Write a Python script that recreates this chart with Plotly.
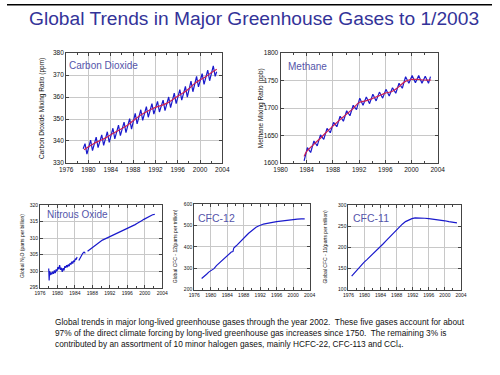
import plotly.graph_objects as go

W, H = 500, 375

# ---------------- data ----------------
co2_x = [1979.05, 1979.38, 1979.72, 1980.38, 1980.72, 1981.38, 1981.72, 1982.38, 1982.72, 1983.38, 1983.72,
         1984.38, 1984.72, 1985.38, 1985.72, 1986.38, 1986.72, 1987.38, 1987.72, 1988.38, 1988.72,
         1989.38, 1989.72, 1990.38, 1990.72, 1991.38, 1991.72, 1992.38, 1992.72, 1993.38, 1993.72,
         1994.38, 1994.72, 1995.38, 1995.72, 1996.38, 1996.72, 1997.38, 1997.72, 1998.38, 1998.72,
         1999.38, 1999.72, 2000.38, 2000.72, 2001.38, 2001.72, 2002.38, 2002.72, 2002.98]
co2_y = [336.5, 338.8, 334.0, 340.4, 335.6, 341.8, 337.0, 342.8, 338.0, 344.2, 339.4,
         345.8, 341.0, 347.2, 342.4, 348.6, 343.8, 350.2, 345.4, 352.6, 347.8,
         354.2, 349.4, 355.6, 350.8, 357.0, 352.2, 358.0, 353.2, 358.6, 353.8,
         360.0, 355.2, 361.8, 357.0, 363.4, 358.6, 364.8, 360.0, 367.2, 362.4,
         369.4, 364.6, 370.6, 365.8, 372.2, 367.4, 374.2, 369.4, 371.5]
co2_trend_x = [1979.2, 1980, 1981, 1982, 1983, 1984, 1985, 1986, 1987, 1988, 1989, 1990, 1991,
               1992, 1993, 1994, 1995, 1996, 1997, 1998, 1999, 2000, 2001, 2002, 2003]
co2_trend_y = [336.0, 337.4, 338.9, 340.1, 341.3, 342.8, 344.3, 345.7, 347.2, 349.2, 351.2, 352.7, 354.1,
               355.3, 356.1, 357.1, 358.7, 360.4, 361.9, 363.8, 366.1, 367.8, 369.2, 371.0, 372.6]

ch4_x = [1983.6, 1984.1, 1984.6, 1985.1, 1985.6, 1986.1, 1986.6, 1987.1, 1987.6, 1988.1, 1988.6,
         1989.1, 1989.6, 1990.1, 1990.6, 1991.1, 1991.6, 1992.1, 1992.6, 1993.1, 1993.6,
         1994.1, 1994.6, 1995.1, 1995.6, 1996.1, 1996.6, 1997.1, 1997.6, 1998.1, 1998.6,
         1999.1, 1999.6, 2000.1, 2000.6, 2001.1, 2001.6, 2002.1, 2002.6, 2002.9]
ch4_y = [1604, 1628, 1619, 1640, 1631, 1651, 1643, 1663, 1655, 1674, 1666,
         1685, 1676, 1695, 1686, 1705, 1697, 1718, 1705, 1720, 1708,
         1725, 1713, 1729, 1718, 1734, 1722, 1737, 1727, 1745, 1736,
         1757, 1745, 1759, 1746, 1759, 1745, 1758, 1745, 1757]
ch4_trend_x = [1983.6, 1984, 1985, 1986, 1987, 1988, 1989, 1990, 1991, 1992, 1993,
               1994, 1995, 1996, 1997, 1998, 1999, 2000, 2001, 2002, 2003]
ch4_trend_y = [1612, 1621, 1633, 1644, 1656, 1667, 1678, 1688, 1698, 1710, 1713,
               1717, 1722, 1727, 1730, 1738, 1748, 1752, 1752, 1751, 1751]

n2o_x = [1978.0, 1978.1, 1978.2, 1978.35, 1978.5, 1978.7, 1978.9, 1979.1, 1979.3, 1979.5, 1979.7, 1979.9,
         1980.1, 1980.3, 1980.5, 1980.7, 1980.9, 1981.1, 1981.3, 1981.5, 1981.7, 1981.9,
         1982.1, 1982.3, 1982.5, 1982.7, 1982.9, 1983.1, 1983.3, 1983.5, 1983.7, 1983.9,
         1984.1, 1984.3, 1984.5, None, 1984.9, 1985.2, 1985.5, 1985.8, 1986.1, 1986.4, None,
         1986.9, 1987.3, 1987.8, 1988.3, 1988.8, 1989.3, 1989.8, 1990.3, 1990.8, 1991.3, 1991.8,
         1992.3, 1992.8, 1993.3, 1993.8, 1994.3, 1994.8, 1995.3, 1995.8, 1996.3, 1996.8,
         1997.3, 1997.8, 1998.3, 1998.8, 1999.3, 1999.8, 2000.3, 2000.8, 2001.3, 2001.8, 2002.3]
n2o_y = [300.8, 297.2, 300.0, 298.8, 299.6, 299.0, 299.8, 299.2, 300.2, 299.4, 300.5, 300.0,
         301.2, 300.6, 301.8, 300.4, 301.0, 299.8, 300.9, 300.2, 301.5, 301.0,
         301.8, 301.2, 302.0, 301.5, 302.4, 302.0, 302.9, 302.3, 303.2, 302.8,
         303.8, 303.5, 304.3, None, 303.2, 304.0, 304.8, 305.4, 305.8, 305.4, None,
         306.0, 306.4, 306.9, 307.5, 308.0, 308.6, 309.0, 309.4, 309.7, 310.0, 310.3,
         310.6, 310.9, 311.2, 311.5, 311.8, 312.1, 312.5, 312.8, 313.1, 313.4,
         313.8, 314.1, 314.5, 314.8, 315.3, 315.7, 316.1, 316.5, 316.8, 317.1, 317.2]

cfc12_x = [1977.8, 1978.3, 1979.0, 1979.6, 1980.2, 1980.8, 1981.4, 1982.0, 1982.6, 1983.2,
           1983.8, 1984.4, 1985.0, 1985.4, 1985.6, 1986.2, 1986.8, 1987.4, 1988.0, 1988.6,
           1989.2, 1989.8, 1990.4, 1991.0, 1991.6, 1992.2, 1992.8, 1993.4, 1994.0, 1995.0,
           1996.0, 1997.0, 1998.0, 1999.0, 2000.0, 2001.0, 2002.0, 2002.8]
cfc12_y = [252, 262, 272, 283, 292, 298, 312, 322, 333, 343,
           355, 365, 376, 378, 395, 405, 418, 430, 440, 452,
           464, 474, 483, 492, 498, 503, 507, 509, 512, 515,
           518, 521, 524, 526, 528, 530, 531, 531]

cfc11_x = [1976.8, 1977.5, 1978.2, 1979.0, 1979.8, 1980.6, 1981.4, 1982.2, 1983.0, 1983.8,
           1984.6, 1985.4, 1986.2, 1987.0, 1987.8, 1988.6, 1989.4, 1990.2, 1991.0, 1991.8,
           1992.6, 1993.4, 1994.2, 1995.0, 1996.0, 1997.0, 1998.0, 1999.0, 2000.0, 2001.0,
           2002.0, 2003.0]
cfc11_y = [132, 140, 148, 156, 164, 171, 178, 185, 192, 200,
           208, 216, 224, 232, 240, 248, 255, 261, 265, 268,
           270, 270, 270, 269, 268, 267, 266, 264, 263, 261,
           259, 258]

# ---------------- layout helpers ----------------
def px_x(x):
    return x / W

def px_y(y):
    return 1 - y / H

BLUE = "#1a1acc"
RED = "#cc2255"
LABEL = "#5555aa"
FONT = "Liberation Sans"

fig = go.Figure()

panels = [
    ("1", (61, 222), (50, 162), [1976, 2004], [330, 380], 10, 6.5),
    ("2", (282, 444), (50, 162), [1980, 2004], [1600, 1800], 50, 6.5),
    ("3", (34, 160), (205, 289), [1976, 2004], [295, 320], 5, 5),
    ("4", (193, 312), (204, 291), [1976, 2004], [200, 600], 100, 5),
    ("5", (352, 468), (205, 291), [1976, 2004], [100, 300], 50, 5),
]

for name, xd, yd, xr, yr, ydt, fs in panels:
    xa = dict(domain=[px_x(xd[0]), px_x(xd[1])], range=xr, dtick=4, tick0=1976,
              anchor="y" + name, showline=True, linecolor="#444", linewidth=1, mirror="ticks",
              showgrid=True, gridcolor="#c8c8c8", gridwidth=1, ticks="inside", ticklen=3,
              tickcolor="#444", tickfont=dict(family=FONT, size=fs, color="#111"), zeroline=False,
              minor=dict(dtick=2, ticks="inside", ticklen=2, tickcolor="#444", showgrid=False))
    ya = dict(domain=[px_y(yd[1]), px_y(yd[0])], range=yr, dtick=ydt,
              anchor="x" + name, showline=True, linecolor="#444", linewidth=1, mirror="ticks",
              showgrid=True, gridcolor="#c8c8c8", gridwidth=1, ticks="inside", ticklen=3,
              tickcolor="#444", tickfont=dict(family=FONT, size=fs, color="#111"), zeroline=False)
    key = "" if name == "1" else name
    fig.update_layout(**{"xaxis" + key: xa, "yaxis" + key: ya})

# ---------------- traces ----------------
fig.add_trace(go.Scatter(x=co2_x, y=co2_y, mode="lines", line=dict(color=BLUE, width=1.2),
                         xaxis="x", yaxis="y", showlegend=False))
fig.add_trace(go.Scatter(x=co2_trend_x, y=co2_trend_y, mode="lines", line=dict(color=RED, width=1.2, shape="spline"),
                         xaxis="x", yaxis="y", showlegend=False))
fig.add_trace(go.Scatter(x=ch4_x, y=ch4_y, mode="lines", line=dict(color=BLUE, width=1.2),
                         xaxis="x2", yaxis="y2", showlegend=False))
fig.add_trace(go.Scatter(x=ch4_trend_x, y=ch4_trend_y, mode="lines", line=dict(color=RED, width=1.2, shape="spline"),
                         xaxis="x2", yaxis="y2", showlegend=False))
fig.add_trace(go.Scatter(x=n2o_x, y=n2o_y, mode="lines", line=dict(color=BLUE, width=1.2),
                         xaxis="x3", yaxis="y3", showlegend=False, connectgaps=False))
fig.add_trace(go.Scatter(x=cfc12_x, y=cfc12_y, mode="lines", line=dict(color=BLUE, width=1.2),
                         xaxis="x4", yaxis="y4", showlegend=False))
fig.add_trace(go.Scatter(x=cfc11_x, y=cfc11_y, mode="lines", line=dict(color=BLUE, width=1.2),
                         xaxis="x5", yaxis="y5", showlegend=False))

# ---------------- annotations ----------------
ann = []
def text(x, y, t, size, color="#111", angle=0, xanchor="center", yanchor="middle", family=FONT, align="center"):
    ann.append(dict(x=px_x(x), y=px_y(y), xref="paper", yref="paper", text=t, showarrow=False,
                    textangle=angle, xanchor=xanchor, yanchor=yanchor, align=align, borderpad=0,
                    font=dict(family=family, size=size, color=color)))

text(255, 15, "Global Trends in Major Greenhouse Gases to 1/2003", 19.2, color="#333399")

text(63, 63, "Carbon Dioxide", 10, color=LABEL, xanchor="left")
text(289, 64, "Methane", 10, color=LABEL, xanchor="left")
text(40, 214, "Nitrous Oxide", 10, color=LABEL, xanchor="left")
text(196, 218, "CFC-12", 10.5, color=LABEL, xanchor="left")
text(356, 218, "CFC-11", 10.5, color=LABEL, xanchor="left")

text(36, 106, "Carbon Dioxide Mixing Ratio (ppm)", 6.5, angle=-90)
text(262, 106, "Methane Mixing Ratio (ppb)", 6.5, angle=-90)
text(16, 247, "Global N<sub>2</sub>O (parts per billion)", 5, angle=-90)
text(174, 247, "Global CFC - 12(parts per trillion)", 5, angle=-90)
text(328, 247, "Global CFC - 11(parts per trillion)", 5, angle=-90)

caption = ("Global trends in major long-lived greenhouse gases through the year 2002.&nbsp; These five gases account for about<br>"
           "97% of the direct climate forcing by long-lived greenhouse gas increases since 1750.&nbsp; The remaining 3% is<br>"
           "contributed by an assortment of 10 minor halogen gases, mainly HCFC-22, CFC-113 and CCl<sub>4</sub>.")
text(48, 318, caption, 8.3, xanchor="left", yanchor="top", align="left")

fig.update_layout(
    width=W, height=H, autosize=False,
    margin=dict(l=0, r=0, t=0, b=0),
    paper_bgcolor="white", plot_bgcolor="white",
    annotations=ann,
    shapes=[dict(type="rect", xref="paper", yref="paper", x0=0, x1=1, y0=px_y(1.5), y1=1,
                 fillcolor="black", line=dict(width=0))],
)

fig.write_html("out.html", config={"displayModeBar": False},
               post_script="document.body.style.margin='0';document.body.style.overflow='hidden';")
